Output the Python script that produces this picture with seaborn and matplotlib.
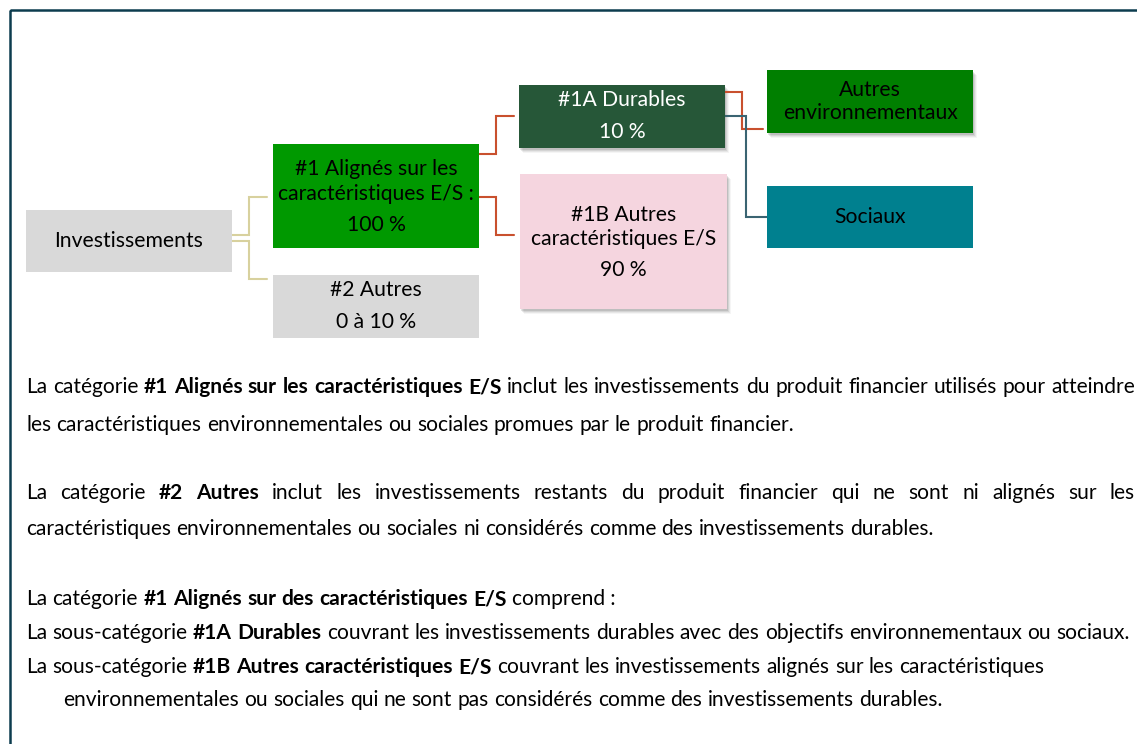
import matplotlib
matplotlib.use("Agg")
import matplotlib.pyplot as plt
from matplotlib.patches import Rectangle
import seaborn as sns

sns.set_theme(style="white")
plt.rcParams['font.family'] = ['Lato', 'DejaVu Sans']

NB = "\u202f"  # narrow no-break space before % and :

# box labels (one list of lines per box)
investissements = ["Investissements"]
alignes = ["#1 Alignés sur les", f"caractéristiques E/S{NB}:", f"100{NB}%"]
autres = ["#2 Autres", f"0 à 10{NB}%"]
durables = ["#1A Durables", f"10{NB}%"]
autres_es = ["#1B Autres", "caractéristiques E/S", f"90{NB}%"]
autres_env = ["Autres", "environnementaux"]
sociaux = ["Sociaux"]

# body text: each line is a list of (text, bold)
para1 = [
    [("La catégorie", False), ("#1 Alignés sur les caractéristiques E/S", True),
     ("inclut les investissements du produit financier utilisés pour atteindre", False)],
    [("les caractéristiques environnementales ou sociales promues par le produit financier.", False)],
]
para2 = [
    [("La catégorie", False), ("#2 Autres", True),
     ("inclut les investissements restants du produit financier qui ne sont ni alignés sur les", False)],
    [("caractéristiques environnementales ou sociales ni considérés comme des investissements durables.", False)],
]
para3 = [
    [("La catégorie", False), ("#1 Alignés sur des caractéristiques E/S", True), (f"comprend{NB}:", False)],
    [("La sous-catégorie", False), ("#1A Durables", True),
     ("couvrant les investissements durables avec des objectifs environnementaux ou sociaux.", False)],
    [("La sous-catégorie", False), ("#1B Autres caractéristiques E/S", True),
     ("couvrant les investissements alignés sur les caractéristiques", False)],
    [("environnementales ou sociales qui ne sont pas considérés comme des investissements durables.", False)],
]

W, H = 1137, 744
fig = plt.figure(figsize=(W / 100, H / 100), dpi=100)
ax = fig.add_axes([0, 0, 1, 1])
ax.set_xlim(0, W)
ax.set_ylim(H, 0)
ax.axis("off")
renderer = fig.canvas.get_renderer()

# outer frame
ax.add_patch(Rectangle((10, 10), 1200, 900, fill=False, ec="#0c3c4e", lw=1.8, zorder=1))

BOX = 15.2
BODY = 15.1


def box(x, y, w, h, color, lines, ys, tcolor="black", shadow=False):
    if shadow:
        for i, a in enumerate([0.10, 0.08, 0.06, 0.04]):
            ax.add_patch(Rectangle((x + 1 + i, y + 2 + i), w, h, fc="black", ec="none",
                                   alpha=a, zorder=2))
    ax.add_patch(Rectangle((x, y), w, h, fc=color, ec="none", zorder=3))
    for t, yy in zip(lines, ys):
        ax.text(x + w / 2, yy, t, ha="center", va="baseline", color=tcolor,
                fontsize=BOX, zorder=4)


def elbow(x0, y0, xm, y1, x1, color):
    ax.plot([x0, xm, xm, x1], [y0, y0, y1, y1], color=color, lw=1.5,
            solid_joinstyle="miter", zorder=2.5)


# connectors
beige, red, teal = "#d8d19e", "#c9502e", "#3a6472"
elbow(232, 235, 249, 197, 267, beige)
elbow(232, 241, 249, 279, 267, beige)
elbow(479, 154, 496, 116, 514, red)
elbow(479, 197, 496, 235, 514, red)
elbow(725, 92, 742, 129, 763, red)
elbow(725, 116, 746, 217, 767, teal)

box(26, 210, 206, 62, "#d9d9d9", investissements, [247])
box(273, 144, 206, 104, "#009900", alignes, [175, 200, 231])
box(273, 275, 206, 63, "#d9d9d9", autres, [296, 328])
box(519, 85, 206, 63, "#265738", durables, [106, 138], tcolor="white", shadow=True)
box(520, 174, 207, 135, "#f5d5df", autres_es, [221, 245, 276], shadow=True)
box(767, 70, 206, 63, "#007f00", autres_env, [96, 119], shadow=True)
box(767, 186, 206, 62, "#00808f", sociaux, [223])


def width(s, bold):
    t = ax.text(0, 0, s, fontsize=BODY, fontweight="bold" if bold else "normal")
    w = t.get_window_extent(renderer).width
    t.remove()
    return w


space = width("a a", False) - width("aa", False)


def draw_line(segs, x0, y, x1=None):
    words = []
    for s, b in segs:
        for wd in s.split(" "):
            words.append((wd, b))
    ws = [width(wd, b) for wd, b in words]
    gap = space
    if x1 is not None:
        gap = (x1 - x0 - sum(ws)) / (len(words) - 1)
    x = x0
    for (wd, b), w in zip(words, ws):
        ax.text(x, y, wd, fontsize=BODY, fontweight="bold" if b else "normal",
                ha="left", va="baseline", color="black")
        x += w + gap


draw_line(para1[0], 26, 393, 1135)
draw_line(para1[1], 26, 431)
draw_line(para2[0], 26, 499, 1135)
draw_line(para2[1], 26, 535)
draw_line(para3[0], 26, 605)
draw_line(para3[1], 26, 639)
draw_line(para3[2], 26, 673)
draw_line(para3[3], 63, 706)

fig.savefig("out.png", dpi=100)
